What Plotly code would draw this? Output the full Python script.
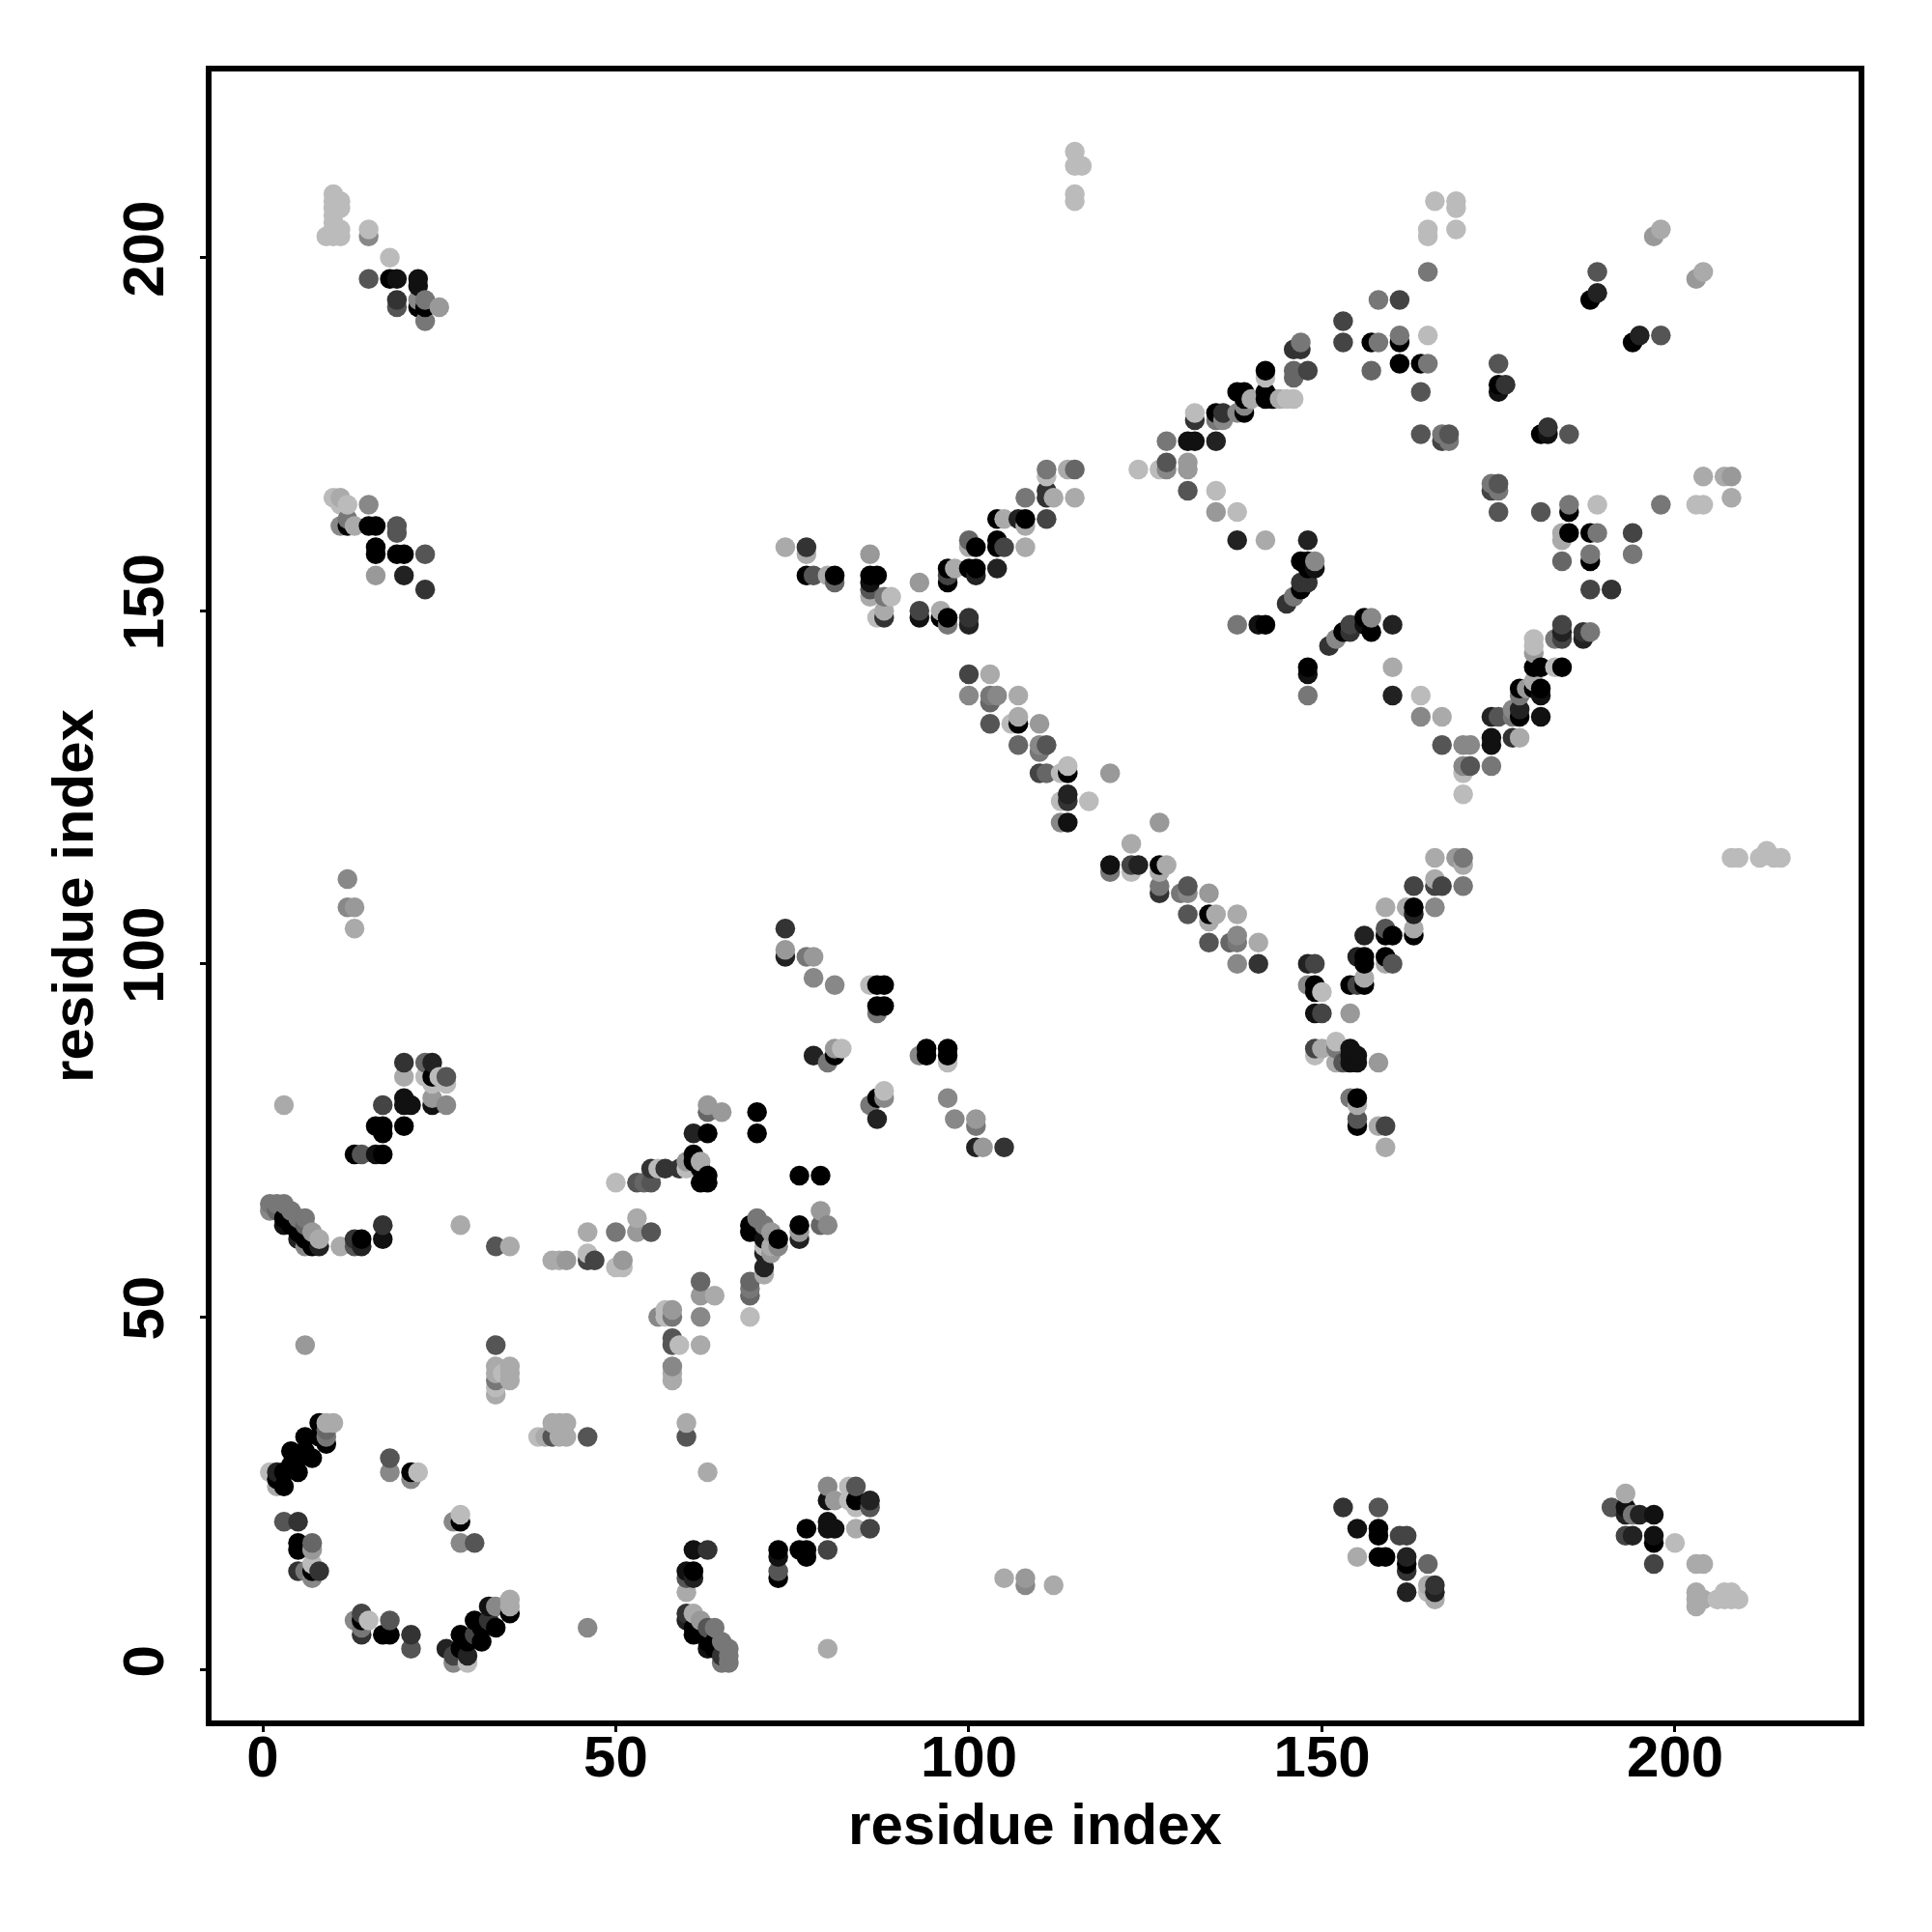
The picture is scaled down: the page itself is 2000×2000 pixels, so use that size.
import plotly.graph_objects as go

shade_000 = [(3,26),(3,28),(2,27),(4,31),(5,28),(4,29),(6,33),(7,30),(5,30),(6,31),(8,35),(9,32),(8,33),(21,28),(5,18),(5,17),(7,14),(28,21),(14,7),(17,5),(18,5),(28,5),(28,3),(30,7),(31,4),(29,4),(33,6),(31,6),(35,8),(61,14),(61,6),(61,5),(63,4),(64,4),(64,3),(84,24),(77,20),(73,17),(73,13),(76,17),(77,17),(77,16),(158,20),(158,19),(158,16),(159,16),(162,15),(197,18),(24,84),(16,77),(17,77),(17,76),(20,77),(13,73),(17,73),(3,64),(5,62),(7,60),(6,61),(14,61),(4,63),(81,87),(94,88),(94,87),(97,88),(97,87),(70,79),(70,76),(63,76),(87,81),(76,70),(79,70),(61,73),(61,72),(62,71),(62,69),(63,69),(63,70),(76,63),(69,63),(69,62),(70,62),(73,61),(163,108),(163,104),(159,104),(160,104),(156,101),(156,100),(159,101),(154,97),(156,97),(149,97),(149,96),(155,81),(155,77),(107,134),(114,127),(127,114),(134,107),(77,155),(81,155),(86,155),(87,155),(96,149),(97,149),(97,156),(97,154),(100,156),(101,156),(101,159),(104,160),(104,159),(104,163),(108,163),(161,188),(157,188),(161,185),(164,185),(175,182),(142,184),(142,181),(142,180),(143,180),(138,181),(139,181),(139,180),(135,178),(139,178),(147,157),(148,157),(148,156),(147,153),(142,148),(153,147),(156,149),(157,147),(148,142),(185,164),(185,161),(188,161),(188,157),(180,142),(181,142),(184,142),(178,139),(180,139),(181,139),(178,135),(188,194),(194,188),(181,175),(18,197),(22,193),(23,193),(12,162),(15,162),(16,162),(16,159),(16,158),(19,158),(20,158),(87,97),(88,97),(87,94),(88,94)]
shade_111 = [(32,9),(80,24),(80,21),(80,20),(81,20),(73,16),(61,17),(60,14),(63,3),(155,20),(20,81),(20,80),(21,80),(24,80),(16,73),(3,63),(17,61),(71,61),(149,93),(154,88),(154,87),(154,86),(155,87),(155,86),(120,114),(114,120),(86,154),(93,149),(175,181),(141,148),(156,148),(149,156),(131,174),(132,174),(181,138),(181,135),(174,132),(174,131),(148,141),(182,175),(19,197),(22,197),(22,196),(193,23),(197,22),(197,19)]
shade_222 = [(2,28),(26,3),(29,2),(61,13),(60,7),(86,24),(24,86),(162,16),(166,11),(162,11),(193,22),(195,22),(194,19),(5,61),(8,60),(14,60),(61,76),(78,87),(101,74),(76,61),(71,59),(71,57),(155,101),(156,104),(148,100),(163,107),(114,124),(124,114),(104,156),(101,155),(100,148),(107,163),(160,148),(135,174),(138,160),(148,160),(174,135),(178,136),(160,138),(187,146),(184,147),(189,195),(195,189),(20,155),(87,78),(74,101)]
shade_333 = [(5,14),(8,14),(5,21),(21,5),(14,5),(32,7),(65,2),(63,17),(60,8),(153,23),(162,14),(166,12),(20,86),(17,63),(13,61),(55,71),(57,71),(59,71),(105,74),(141,100),(127,110),(114,123),(100,149),(111,166),(111,167),(88,149),(77,159),(132,177),(136,178),(147,187),(146,187),(176,182),(182,176),(147,154),(148,154),(145,151),(151,145),(154,147),(177,132),(187,147),(191,153),(19,194),(23,153),(74,105)]
shade_444 = [(14,8),(30,5),(27,2),(80,17),(86,20),(161,19),(162,19),(193,19),(197,15),(17,80),(46,58),(47,58),(159,77),(155,97),(150,93),(149,88),(163,111),(166,111),(167,111),(149,100),(123,114),(100,141),(110,127),(93,150),(105,159),(111,163),(97,155),(161,194),(153,191),(153,188),(148,184),(167,174),(174,167),(154,148),(194,161),(184,146),(184,148),(188,153)]
shade_555 = [(33,46),(46,33),(41,33),(18,30),(3,21),(18,7),(21,3),(30,18),(73,14),(60,13),(58,47),(58,46),(60,33),(63,6),(84,26),(86,23),(158,23),(191,23),(14,73),(13,60),(33,60),(55,69),(53,69),(55,62),(26,84),(159,105),(160,100),(153,86),(155,78),(171,128),(167,131),(175,135),(103,134),(111,131),(131,111),(131,107),(134,103),(164,181),(164,175),(168,175),(175,168),(175,164),(175,185),(181,164),(131,167),(128,171),(78,155),(86,153),(185,175),(189,198),(198,189),(15,197),(19,193),(19,162),(19,161),(23,158)]
shade_666 = [(9,34),(63,79),(7,18),(2,65),(6,63),(54,69),(23,86),(62,55),(69,55),(69,53),(79,63),(165,15),(103,137),(107,131),(111,127),(137,103),(100,160),(81,154),(115,170),(146,183),(146,184),(157,184),(184,157)]
shade_777 = [(33,41),(9,33),(14,6),(6,14),(58,50),(64,6),(65,4),(65,1),(66,3),(66,2),(66,1),(1,66),(2,66),(3,66),(4,65),(5,64),(6,64),(50,62),(101,77),(86,80),(80,86),(70,64),(71,63),(69,54),(194,22),(110,130),(103,138),(127,111),(130,110),(120,113),(138,103),(108,166),(111,170),(158,194),(165,198),(158,188),(161,189),(165,185),(147,188),(135,177),(128,174),(167,175),(168,174),(174,168),(175,167),(138,148),(146,152),(152,88),(154,81),(170,111),(170,115),(178,138),(177,135),(174,128),(189,161),(185,165),(198,165),(188,158),(194,158),(188,147),(183,146),(148,138),(12,163),(23,194),(23,191),(88,152),(97,148),(77,101),(87,93)]
shade_888 = [(18,28),(21,27),(27,21),(28,18),(7,13),(27,1),(33,9),(46,6),(13,7),(56,50),(62,50),(80,26),(58,43),(108,12),(1,65),(6,60),(26,80),(80,63),(93,87),(98,78),(97,81),(73,60),(138,104),(166,108),(104,138),(110,131),(100,138),(113,120),(131,110),(138,100),(136,177),(138,178),(139,179),(128,170),(157,149),(149,157),(152,146),(170,131),(171,131),(170,128),(177,136),(164,135),(15,165),(11,162),(22,194),(15,203),(12,112),(88,81),(148,97),(12,108),(78,98),(81,97)]
shade_999 = [(6,46),(63,80),(65,79),(81,24),(7,17),(43,58),(51,58),(53,62),(24,81),(25,193),(16,155),(62,53),(72,62),(72,59),(76,62),(79,65),(101,78),(102,74),(81,88),(154,93),(158,86),(169,115),(134,110),(110,134),(120,127),(127,120),(93,154),(86,158),(197,203),(203,197),(208,169),(131,171),(131,170),(135,164),(179,139),(180,144),(60,72),(7,62),(13,108),(108,13),(58,51),(62,7),(74,102),(78,101)]
shade_aaa = [(33,43),(35,43),(35,42),(35,41),(33,42),(33,39),(41,35),(42,35),(43,35),(40,33),(42,33),(43,33),(10,35),(9,35),(35,10),(35,9),(2,26),(62,46),(60,35),(63,28),(105,13),(112,12),(80,3),(58,42),(58,41),(60,11),(61,8),(84,20),(3,80),(28,63),(35,60),(11,60),(8,61),(20,84),(41,58),(42,58),(46,62),(53,64),(155,80),(156,98),(159,100),(159,108),(162,108),(163,105),(166,112),(170,114),(134,106),(135,107),(138,107),(107,135),(107,138),(103,141),(123,117),(127,113),(128,114),(141,103),(98,156),(62,72),(71,56),(72,60),(64,53),(74,159),(77,158),(80,155),(86,152),(88,150),(96,150),(105,163),(100,159),(108,159),(108,162),(112,166),(115,166),(114,170),(140,180),(144,180),(142,160),(160,142),(184,161),(184,160),(178,132),(167,135),(180,140),(198,204),(204,198),(204,169),(207,169),(208,166),(158,77),(159,74),(150,88),(152,86),(166,115),(11,166),(13,162),(165,12),(166,10),(155,16),(193,25),(203,15),(204,15),(203,11),(203,10),(203,9),(204,10),(13,105)]
shade_bbb = [(1,28),(7,15),(15,7),(22,28),(28,22),(29,1),(33,40),(34,42),(39,33),(57,50),(57,51),(59,46),(69,50),(83,26),(83,24),(84,23),(82,88),(88,82),(97,86),(25,84),(23,84),(24,83),(26,83),(50,69),(46,59),(50,57),(51,57),(71,60),(60,71),(56,71),(150,96),(149,87),(152,89),(170,127),(170,124),(164,138),(180,146),(180,145),(183,142),(165,11),(200,18),(206,10),(207,10),(207,11),(208,11),(208,10),(209,10),(113,127),(114,128),(113,123),(117,123),(123,113),(106,134),(127,170),(124,170),(132,178),(135,167),(138,164),(145,180),(146,180),(142,183),(111,169),(165,189),(189,165),(203,165),(204,165),(89,152),(87,149),(18,200),(9,203),(10,203),(10,204),(10,205),(10,206),(10,207),(10,208),(10,209),(11,203),(11,204),(11,207),(11,208),(15,204),(10,166),(11,165),(12,165),(115,215),(115,213),(116,213),(115,209),(115,208),(208,115),(209,115),(212,115),(213,116),(214,115),(215,115),(166,208),(169,208),(169,207),(169,204),(165,204),(165,203),(86,97)]

groups = [("#000000",shade_000),("#111111",shade_111),("#222222",shade_222),("#333333",shade_333),("#444444",shade_444),("#555555",shade_555),("#666666",shade_666),("#777777",shade_777),("#888888",shade_888),("#999999",shade_999),("#aaaaaa",shade_aaa),("#bbbbbb",shade_bbb)]
rows = sorted(((p[0], p[1], c) for c, pts in groups for p in pts), key=lambda r: (r[0], r[1]))
residue_i = [r[0] for r in rows]
residue_j = [r[1] for r in rows]
colours = [r[2] for r in rows]
tick_values = [0, 50, 100, 150, 200]

FONT = "Liberation Sans"
bold = dict(family=FONT, size=60, color="black", weight=700)
fig = go.Figure(go.Scatter(x=residue_i, y=residue_j, mode="markers",
                           marker=dict(size=20.5, color=colours, line=dict(width=0)), hoverinfo="skip"))
axis = dict(tickvals=tick_values, ticks="outside", ticklen=6, tickwidth=3,
            tickcolor="black", showgrid=False, zeroline=False, showline=True, mirror=True,
            linecolor="black", linewidth=6, automargin=False, tickfont=bold)
fig.update_xaxes(**axis, range=[-7.25, 226.0], ticklabelstandoff=-26, title=dict(text="residue index", standoff=18, font=bold))
fig.update_yaxes(**axis, range=[-7.15, 226.37], tickangle=-90, ticklabelstandoff=14, title=dict(text="residue index", standoff=1, font=bold))
fig.update_layout(width=2000, height=2000, margin=dict(l=211, r=84, t=66, b=227),
                  paper_bgcolor="white", plot_bgcolor="white", showlegend=False)
fig.write_html("out.html")
